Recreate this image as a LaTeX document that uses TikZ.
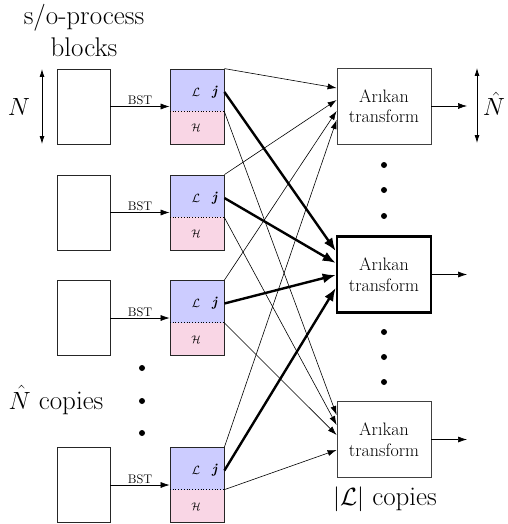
\documentclass[tikz,border=0pt]{standalone}
\usetikzlibrary{arrows.meta}
\definecolor{blueL}{RGB}{204,204,255}
\definecolor{pinkL}{RGB}{249,214,229}
\begin{document}
\begin{tikzpicture}[x=1pt,y=-1pt,
  wbox/.style={draw=black!85, line width=0.8pt, minimum width=53pt, minimum height=75pt, inner sep=0pt},
  upart/.style={fill=blueL, minimum width=54pt, minimum height=42pt, inner sep=0pt},
  hpart/.style={fill=pinkL, minimum width=54pt, minimum height=33pt, inner sep=0pt},
  cbox/.style={draw=black!85, line width=0.8pt, minimum width=54pt, minimum height=75pt, inner sep=0pt},
  tbox/.style={draw=black!75, line width=0.8pt, minimum width=94pt, minimum height=76pt, inner sep=0pt, align=center, font=\fontsize{18}{20.5}\selectfont},
  conn/.style={line width=0.6pt, -{Latex[length=9pt,width=6pt]}},
  mainconn/.style={line width=2.4pt, -{Latex[length=13pt,width=10pt]}},
  dbl/.style={line width=0.8pt, {Latex[length=8pt,width=5pt]}-{Latex[length=8pt,width=5pt]}},
  dot/.style={circle, fill, inner sep=0pt, minimum size=6pt},
  big/.style={font=\fontsize{27}{32}\selectfont},
  small/.style={font=\fontsize{12.5}{12.5}\selectfont, inner sep=1pt}
]
\useasboundingbox (0,0) rectangle (507,524);

\node[big, align=center] (title) at (84,30) {s/o-process\\blocks};

\foreach \i/\cy in {1/106.5,2/212.5,3/318,4/485}{
  \node[wbox] (b\i) at (83.5,\cy) {};
  \node[upart] (u\i) at (197,\cy-16.5) {};
  \node[hpart] (h\i) at (197,\cy+21) {};
  \node[cbox] (c\i) at (197,\cy) {};
  \draw[dotted, line width=0.8pt] (u\i.south west) -- (u\i.south east);
  \node[font=\fontsize{12}{12}\selectfont, inner sep=0pt] (l\i) at (196,\cy-14.5) {$\mathcal{L}$};
  \node[font=\fontsize{14}{14}\selectfont, inner sep=0pt] (j\i) at (215,\cy-14.5) {\textbf{\textit{j}}};
  \node[font=\fontsize{11}{11}\selectfont, inner sep=0pt] (hh\i) at (196,\cy+21.5) {$\mathcal{H}$};
  \draw[conn] (b\i.east) -- node[above, small] {BST} (c\i.west);
}

\node[tbox] (T1) at (384,106) {Arıkan\\transform};
\node[tbox, draw=black, line width=2.6pt] (T2) at (384,274.5) {Arıkan\\transform};
\node[tbox] (T3) at (384,439.5) {Arıkan\\transform};

% thin connectors to top box
\draw[conn] (c1.north east) -- ([yshift=18pt]T1.west);
\draw[conn] (c2.north east) -- ([yshift=6pt]T1.west);
\draw[conn] (c3.north east) -- ([yshift=-5pt]T1.west);
\draw[conn] (c4.north east) -- ([yshift=-14pt]T1.west);
% thin connectors to bottom box
\draw[conn] (u1.south east) -- ([yshift=24.5pt]T3.west);
\draw[conn] (u2.south east) -- ([yshift=14.5pt]T3.west);
\draw[conn] (u3.south east) -- ([yshift=4.5pt]T3.west);
\draw[conn] (u4.south east) -- ([yshift=-10.5pt]T3.west);
% thick connectors to middle box
\draw[mainconn] (c1.east |- j1) -- ([yshift=23.5pt]T2.west);
\draw[mainconn] (c2.east |- j2) -- ([yshift=11.5pt]T2.west);
\draw[mainconn] (c3.east |- j3) -- ([yshift=-0.5pt]T2.west);
\draw[mainconn] (c4.east |- j4) -- ([yshift=-13.5pt]T2.west);

% outputs
\coordinate (o1) at (467,106);
\coordinate (o2) at (467,274.5);
\coordinate (o3) at (467,439.5);
\draw[conn] (T1.east) -- (o1);
\draw[conn] (T2.east) -- (o2);
\draw[conn] (T3.east) -- (o3);

% size arrows
\coordinate (na) at (42,69);
\coordinate (nb) at (42,144);
\draw[dbl] (na) -- (nb);
\node[font=\fontsize{27}{32}\selectfont] (Nl) at (19,107) {$N$};
\coordinate (ma) at (477,68);
\coordinate (mb) at (477,143);
\draw[dbl] (ma) -- (mb);
\node[font=\fontsize{27}{32}\selectfont] (Nh) at (494,104) {$\hat{N}$};

% dots
\node[dot] (d1) at (384,165) {};
\node[dot] (d2) at (384,190) {};
\node[dot] (d3) at (384,216) {};
\node[dot] (d4) at (384,332) {};
\node[dot] (d5) at (384,357) {};
\node[dot] (d6) at (384,382) {};
\node[dot] (d7) at (142,368) {};
\node[dot] (d8) at (142,401) {};
\node[dot] (d9) at (142,433) {};

\node[font=\fontsize{27}{32}\selectfont] (nc) at (56,400) {$\hat{N}$ copies};
\node[font=\fontsize{27}{32}\selectfont] (lc) at (385,499) {$|\mathcal{L}|$ copies};
\end{tikzpicture}
\end{document}
